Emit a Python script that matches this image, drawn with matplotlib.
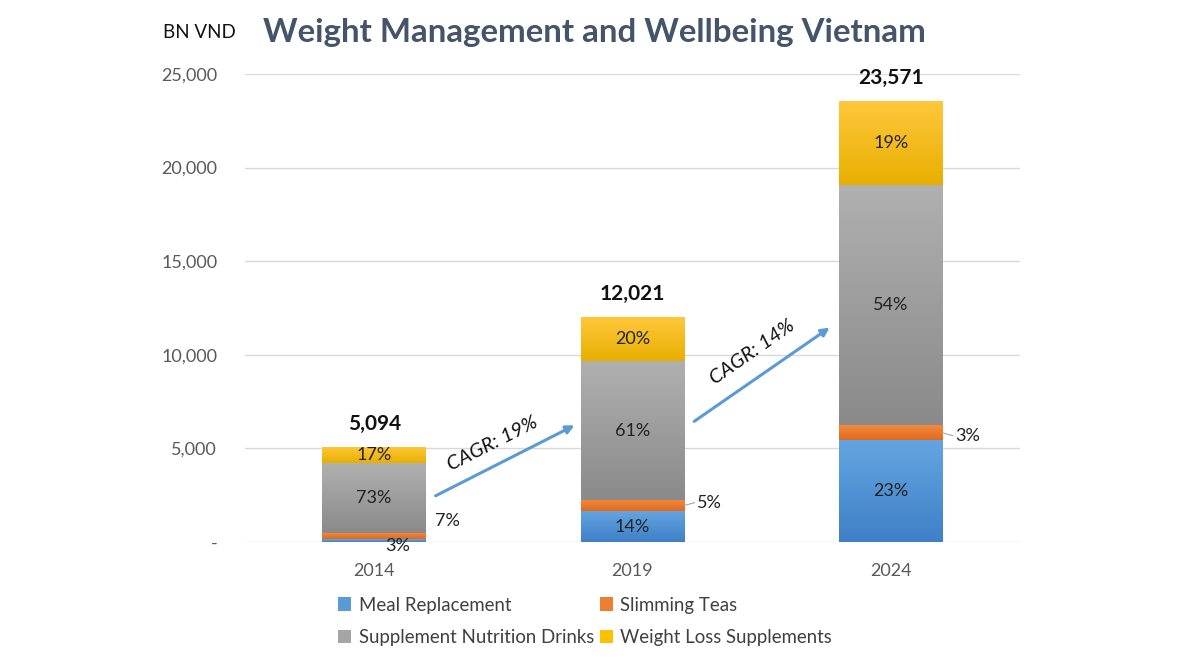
import matplotlib.pyplot as plt
import numpy as np
from matplotlib.colors import LinearSegmentedColormap

plt.rcParams['font.family'] = ['Lato', 'DejaVu Sans']

years = ['2014', '2019', '2024']
totals = ['5,094', '12,021', '23,571']
meal_replacement = [160, 1656, 5430]
slimming_teas = [340, 588, 800]
supplement_drinks = [3720, 7426, 12840]
weight_loss_supps = [874, 2351, 4501]

pct_meal = ['3%', '14%', '23%']
pct_teas = ['7%', '5%', '3%']
pct_drinks = ['73%', '61%', '54%']
pct_weight = ['17%', '20%', '19%']

series = [
    ('Meal Replacement', meal_replacement, pct_meal, '#5B9BD5', '#64A5E0', '#3F80C8'),
    ('Slimming Teas', slimming_teas, pct_teas, '#ED7D31', '#F48A3E', '#E06A1E'),
    ('Supplement Nutrition Drinks', supplement_drinks, pct_drinks, '#A5A5A5', '#B0B0B0', '#8A8A8A'),
    ('Weight Loss Supplements', weight_loss_supps, pct_weight, '#FFC000', '#FFC83C', '#E8AF00'),
]

fig = plt.figure(figsize=(11.87, 6.59), dpi=100)
ax = fig.add_axes([0.2064, 0.1775, 0.6529, 0.7102])

x = np.arange(len(years))
width = 0.4
bottom = np.zeros(len(years))
handles = {}
for name, vals, pcts, col, top_c, bot_c in series:
    bars = ax.bar(x, vals, width, bottom=bottom, color=col, label=name, zorder=2)
    handles[name] = bars
    cmap = LinearSegmentedColormap.from_list(name, [bot_c, top_c])
    grad = np.linspace(1, 0, 100).reshape(-1, 1)
    for b in bars:
        x0, y0 = b.get_x(), b.get_y()
        im = ax.imshow(grad, extent=[x0, x0 + b.get_width(), y0, y0 + b.get_height()],
                       aspect='auto', cmap=cmap, zorder=2.5, interpolation='bicubic')
        im.set_clip_path(b)
    bottom = bottom + np.array(vals)

ax.set_xlim(-0.5, 2.5)
ax.set_ylim(0, 25000)

# labels inside / beside the segments
txt = dict(fontsize=13, color='#222222', va='center', zorder=4)
bottom = np.zeros(len(years))
for name, vals, pcts, *_ in series:
    for i, v in enumerate(vals):
        mid = bottom[i] + v / 2
        if name == 'Meal Replacement' and i == 0:
            ax.text(x[i] + 0.09, -200, pcts[i], ha='center', **txt)
        elif name == 'Slimming Teas' and i == 0:
            ax.text(x[i] + 0.235, 1120, pcts[i], ha='left', **txt)
        elif name == 'Slimming Teas':
            dy = 150 if i == 1 else -150
            ax.plot([x[i] + width / 2, x[i] + width / 2 + 0.04], [mid, mid + dy],
                    color='#A5A5A5', lw=0.8, zorder=3)
            ax.text(x[i] + width / 2 + 0.05, mid + dy, pcts[i], ha='left', **txt)
        else:
            ax.text(x[i], mid, pcts[i], ha='center', **txt)
    bottom = bottom + np.array(vals)

for i, t in enumerate(totals):
    ax.text(x[i], bottom[i] + 700, t, ha='center', va='bottom', fontsize=15,
            fontweight='bold', color='#111111', clip_on=False)

# CAGR arrows
arrow_kw = dict(arrowstyle='-|>', color='#5B9BD5', lw=2.2, mutation_scale=12)
ax.annotate('', xy=(0.785, 6300), xytext=(0.228, 2400), arrowprops=arrow_kw, zorder=4)
ax.annotate('', xy=(1.772, 11540), xytext=(1.230, 6360), arrowprops=arrow_kw, zorder=4)
ax.text(0.46, 5230, 'CAGR: 19%', rotation=27, ha='center', va='center',
        fontsize=14.5, style='italic', color='#111111')
ax.text(1.463, 10150, 'CAGR: 14%', rotation=35, ha='center', va='center',
        fontsize=14.5, style='italic', color='#111111')

ax.set_xticks(x)
ax.set_xticklabels(years)
ax.set_yticks(np.arange(0, 25001, 5000))
ax.set_yticklabels(['-'] + [f'{v:,}' for v in range(5000, 25001, 5000)])
ax.tick_params(length=0, labelsize=13, colors='#595959')
ax.tick_params(axis='y', pad=20)
ax.tick_params(axis='x', pad=15)
ax.yaxis.grid(True, color='#D9D9D9', lw=1, zorder=0)
ax.set_axisbelow(True)
for s in ax.spines.values():
    s.set_visible(False)

fig.text(0.137, 0.95, 'BN VND', fontsize=13.5, color='#111111', va='center')
fig.text(0.2216, 0.95, 'Weight Management and Wellbeing Vietnam', fontsize=23.8,
         fontweight='bold', color='#44546A', va='center')

order = ['Meal Replacement', 'Supplement Nutrition Drinks', 'Slimming Teas', 'Weight Loss Supplements']
fig.legend([handles[n] for n in order], order, loc='center', ncol=2,
           bbox_to_anchor=(0.493, 0.057), frameon=False, fontsize=13.4,
           labelcolor='#404040', handlelength=0.7, handleheight=0.7,
           handletextpad=0.4, columnspacing=0.3, labelspacing=0.85)

fig.savefig('out.png', dpi=100)
